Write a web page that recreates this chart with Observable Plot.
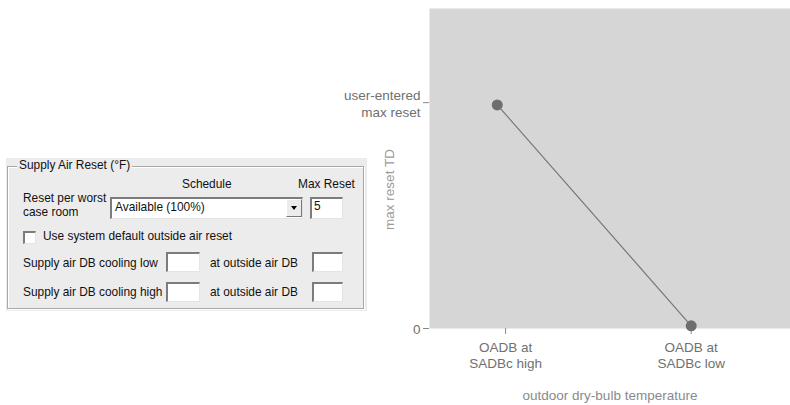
<!DOCTYPE html>
<html>
<head>
<meta charset="utf-8">
<script src="https://cdn.jsdelivr.net/npm/d3@7"></script>
<script src="https://cdn.jsdelivr.net/npm/@observablehq/plot@0.6"></script>
<style>
  html, body { margin: 0; padding: 0; background: #fff; }
  #wrap { position: relative; width: 790px; height: 405px; overflow: hidden; }
  #chart { position: absolute; left: 0; top: 0; }
  .dlg { position: absolute; font-family: "Liberation Sans", Arial, sans-serif; font-size: 11.9px; color: #111; }
  .abs { position: absolute; white-space: nowrap; line-height: 1; }
  .panel { position: absolute; left: 6px; top: 158px; width: 361px; height: 153px; background: #ececec; }
  .group { position: absolute; left: 7px; top: 166px; width: 355px; height: 141px; border: 1px solid #a9a9a9; box-shadow: inset 1px 1px 0 #fff, 1px 1px 0 #fff; }
  .title { background: #ececec; padding: 0 2px; }
  .box { position: absolute; background: #fff; box-sizing: border-box;
         border-top: 2px solid #7c7c7c; border-left: 2px solid #7c7c7c;
         border-right: 1px solid #e4e4e4; border-bottom: 1px solid #e4e4e4; }
  .btn { position: absolute; background: #ececec; box-sizing: border-box;
         border-top: 1px solid #fff; border-left: 1px solid #fff;
         border-right: 1px solid #777; border-bottom: 1px solid #777; }
  .arrow { position: absolute; width: 0; height: 0; border-left: 3.5px solid transparent; border-right: 3.5px solid transparent; border-top: 4px solid #000; }
  .chk { position: absolute; background: #fff; box-sizing: border-box;
         border-top: 2px solid #7c7c7c; border-left: 2px solid #7c7c7c;
         border-right: 1px solid #e4e4e4; border-bottom: 1px solid #e4e4e4; }
</style>
</head>
<body>
<div id="wrap">
  <div id="chart"></div>
  <div class="dlg" id="dialog">
    <div class="panel"></div>
    <div class="group"></div>
    <div class="abs title" style="left:17px; top:160px;">Supply Air Reset (°F)</div>
    <div class="abs" style="left:182px; top:179px;">Schedule</div>
    <div class="abs" style="left:298px; top:179px;">Max Reset</div>
    <div class="abs" style="left:23px; top:193px;">Reset per worst</div>
    <div class="abs" style="left:23px; top:207px;">case room</div>
    <div class="box" style="left:110px; top:197px; width:193px; height:22px;"></div>
    <div class="abs" style="left:115px; top:202px;">Available (100%)</div>
    <div class="btn" style="left:286px; top:199px; width:16px; height:18px;"></div>
    <div class="arrow" style="left:290.5px; top:206px;"></div>
    <div class="box" style="left:310px; top:197px; width:33px; height:22px;"></div>
    <div class="abs" style="left:314px; top:201px;">5</div>
    <div class="chk" style="left:23px; top:231px; width:13px; height:13px;"></div>
    <div class="abs" style="left:43px; top:231px;">Use system default outside air reset</div>
    <div class="abs" style="left:23px; top:258px;">Supply air DB cooling low</div>
    <div class="box" style="left:166px; top:252px; width:34px; height:20px;"></div>
    <div class="abs" style="left:210px; top:258px;">at outside air DB</div>
    <div class="box" style="left:312px; top:252px; width:31px; height:20px;"></div>
    <div class="abs" style="left:23px; top:287px;">Supply air DB cooling high</div>
    <div class="box" style="left:166px; top:282px; width:34px; height:20px;"></div>
    <div class="abs" style="left:210px; top:287px;">at outside air DB</div>
    <div class="box" style="left:312px; top:282px; width:31px; height:20px;"></div>
  </div>
</div>
<script>
// ---- data ----
const xTickValues = [1, 2];
const xTickLabels = ["OADB at\nSADBc high", "OADB at\nSADBc low"];
const yTickValues = [0, 1];
const yTickLabels = ["0", "user-entered\nmax reset"];
const pointX = [0.955, 2];
const pointY = [0.99, 0.012];
const xLabel = "outdoor dry-bulb temperature";
const yLabel = "max reset TD";
const xDomain = [0.59, 2.535];
const yDomain = [0, 1.417];

const points = pointX.map((x, i) => ({x, y: pointY[i]}));

const chart = Plot.plot({
  width: 790,
  height: 405,
  marginLeft: 429,
  marginRight: 0,
  marginTop: 8,
  marginBottom: 77,
  style: {fontFamily: "'Liberation Sans', Arial, sans-serif", fontSize: "13.5px", background: "transparent", color: "#707070"},
  x: {domain: xDomain},
  y: {domain: yDomain},
  marks: [
    Plot.frame({fill: "#d6d6d6"}),
    Plot.axisX({ticks: xTickValues, tickFormat: (d, i) => xTickLabels[i], tickSize: 6, tickPadding: 6, label: null, stroke: "#888", fill: "#707070", lineHeight: 1.2}),
    Plot.axisY({ticks: yTickValues, tickFormat: (d, i) => yTickLabels[i], tickSize: 6, tickPadding: 3, label: null, stroke: "#888", fill: "#707070", lineHeight: 1.3}),
    Plot.text([xLabel], {frameAnchor: "bottom", dy: 71, fill: "#8a8a8a"}),
    Plot.text([yLabel], {frameAnchor: "left", textAnchor: "middle", rotate: -90, dx: -40, dy: 21, fill: "#9a9a9a"}),
    Plot.line(points, {x: "x", y: "y", stroke: "#777", strokeWidth: 1.2}),
    Plot.dot(points, {x: "x", y: "y", r: 5.5, fill: "#6e6e6e"})
  ]
});
document.getElementById("chart").appendChild(chart);
</script>
</body>
</html>
